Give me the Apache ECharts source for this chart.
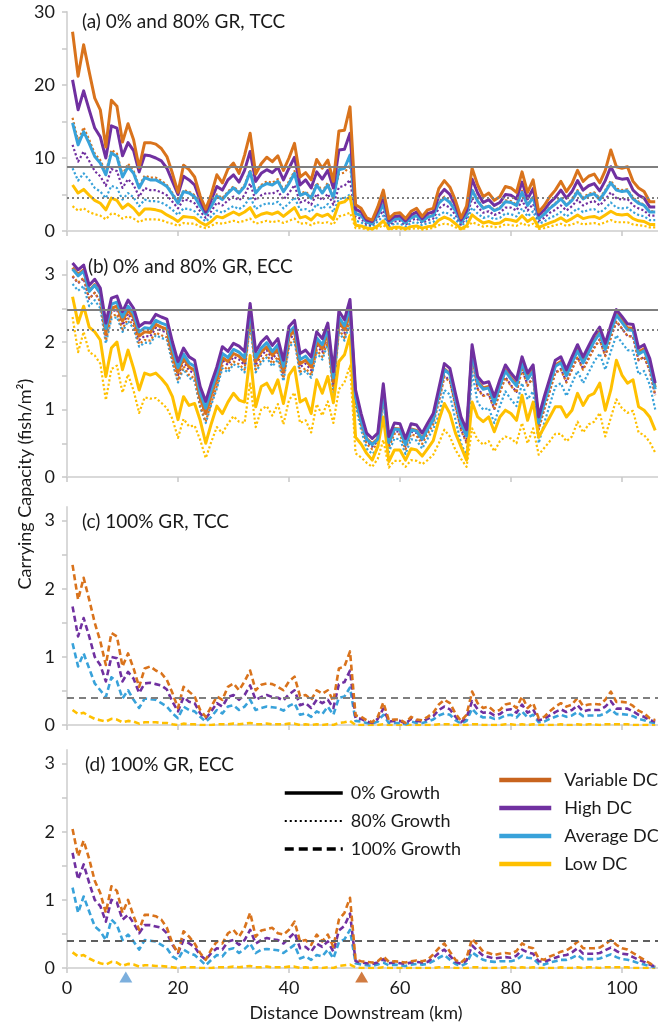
<!DOCTYPE html>
<html><head><meta charset="utf-8">
<script src="https://cdn.jsdelivr.net/npm/echarts@6/dist/echarts.min.js"></script>
<style>html,body{margin:0;padding:0;background:#fff}#c{width:658px;height:1025px}</style>
</head><body><div id="c"></div>
<script>
const km = [1,2,3,4,5,6,7,8,9,10,11,12,13,14,15,16,17,18,19,20,21,22,23,24,25,26,27,28,29,30,31,32,33,34,35,36,37,38,39,40,41,42,43,44,45,46,47,48,49,50,51,52,53,54,55,56,57,58,59,60,61,62,63,64,65,66,67,68,69,70,71,72,73,74,75,76,77,78,79,80,81,82,83,84,85,86,87,88,89,90,91,92,93,94,95,96,97,98,99,100,101,102,103,104,105,106];
const xTicks = [0,20,40,60,80,100];

// (a) 0% and 80% GR, TCC
const aVarSolid = [27.3,21.2,25.5,21.8,18.2,16.6,11.5,17.9,17.1,12.2,14.7,12.5,8.7,12.1,12.1,11.9,11.3,10.2,7.9,5.3,9.0,8.4,7.4,4.8,3.0,5.0,7.7,6.6,8.5,9.3,7.9,10.4,13.4,7.8,9.2,10.1,9.5,10.3,8.3,10.0,12.0,7.4,8.0,7.0,9.8,8.6,9.7,6.8,13.7,13.8,17.0,3.6,3.1,1.8,1.5,3.3,5.6,1.7,2.4,2.5,1.7,2.7,3.1,2.0,2.9,3.1,5.8,6.9,6.0,4.2,1.8,3.4,8.6,6.3,4.7,5.2,4.2,4.7,6.1,5.9,5.3,8.1,5.3,7.0,2.6,3.5,4.7,5.6,6.8,5.4,6.5,8.3,6.8,7.5,7.8,6.6,8.3,11.1,8.8,8.6,8.8,6.8,5.9,5.4,4.0,4.0];
const aHighSolid = [20.7,16.6,19.2,16.6,14.1,12.9,10.0,14.4,14.1,10.3,12.1,11.0,8.1,10.4,10.3,10.0,9.6,8.6,6.8,5.0,7.5,7.0,6.3,4.2,2.6,4.3,6.1,5.6,7.0,7.7,6.7,8.3,10.9,6.8,7.9,8.4,8.0,8.7,7.0,8.6,10.1,6.3,7.0,5.9,8.1,7.1,8.3,5.9,11.1,11.2,13.4,3.0,2.6,1.5,1.3,2.8,4.6,1.4,2.0,2.1,1.4,2.2,2.6,1.7,2.4,2.6,4.8,5.7,5.0,3.5,1.5,2.8,7.1,5.2,3.9,4.3,3.5,3.9,5.0,4.9,4.4,6.7,4.4,5.8,2.2,2.9,3.9,4.6,5.6,4.5,5.4,6.9,5.6,6.2,6.5,5.5,6.9,8.8,7.3,7.1,7.2,5.6,4.9,4.5,3.3,3.3];
const aAvgSolid = [14.8,11.8,13.6,12.0,10.2,9.3,7.7,10.7,10.2,7.4,8.8,7.9,5.9,7.3,7.0,7.0,6.6,6.1,5.0,3.8,5.4,5.2,4.7,3.4,2.3,3.4,4.8,4.3,5.2,5.9,5.2,6.1,8.1,5.2,6.1,6.5,6.3,6.8,5.4,6.5,7.9,4.9,5.2,4.5,6.3,5.2,6.3,4.5,8.4,8.6,10.4,2.4,2.1,1.2,1.0,2.2,3.6,1.1,1.6,1.7,1.1,1.8,2.1,1.3,1.9,2.1,3.8,4.5,3.9,2.8,1.2,2.2,5.6,4.1,3.1,3.4,2.8,3.1,4.0,3.9,3.5,5.3,3.5,4.6,1.7,2.3,3.1,3.7,4.4,3.5,4.2,5.4,4.4,4.9,5.1,4.3,5.4,6.6,5.6,5.4,5.5,4.4,3.8,3.5,2.6,2.6];
const aLowSolid = [6.3,5.2,5.7,4.9,4.2,3.8,2.9,4.5,4.2,3.1,3.7,3.1,2.2,3.0,3.0,2.9,2.7,2.2,1.8,1.3,2.0,1.9,1.8,1.2,0.8,1.3,2.0,1.8,2.2,2.6,2.2,2.6,3.2,1.9,2.3,2.5,2.3,2.6,2.0,2.6,3.2,1.8,2.0,1.5,2.3,2.0,2.3,1.6,3.8,4.0,4.7,0.8,0.7,0.4,0.3,0.7,1.4,0.3,0.5,0.5,0.3,0.6,0.7,0.4,0.6,0.7,1.5,1.9,1.6,1.0,0.3,0.7,2.2,1.6,1.1,1.3,1.0,1.1,1.6,1.5,1.3,2.1,1.3,1.8,0.5,0.8,1.1,1.4,1.8,1.3,1.7,2.2,1.7,1.9,2.0,1.7,2.2,2.7,2.3,2.2,2.3,1.7,1.4,1.3,0.9,0.9];
const aVarDot = [15.5,12.3,14.2,12.5,10.6,9.7,8.0,11.1,10.6,7.7,9.2,8.2,6.1,7.6,7.3,7.3,6.9,6.3,5.2,4.0,5.6,5.4,4.9,3.5,2.4,3.5,5.0,4.5,5.4,6.1,5.4,6.3,8.4,5.4,6.3,6.8,6.6,7.1,5.6,6.8,8.2,5.1,5.4,4.7,6.6,5.4,6.6,4.7,7.8,8.0,9.0,2.5,2.2,1.2,1.0,2.3,3.7,1.1,1.7,1.8,1.1,1.9,2.2,1.4,2.0,2.2,4.0,4.7,4.1,2.9,1.2,2.3,5.8,4.3,3.2,3.5,2.9,3.2,4.2,4.1,3.6,5.5,3.6,4.8,1.8,2.4,3.2,3.8,4.6,3.6,4.4,5.6,4.6,5.1,5.3,4.5,5.6,6.9,5.8,5.6,5.7,4.6,4.0,3.6,2.7,2.7];
const aHighDot = [11.8,9.5,10.9,9.6,8.2,7.5,6.2,8.5,8.2,5.9,7.1,6.3,4.7,5.9,5.6,5.6,5.3,4.9,4.0,3.1,4.3,4.2,3.8,2.7,1.8,2.7,3.9,3.5,4.2,4.7,4.2,4.9,6.5,4.2,4.9,5.2,5.1,5.5,4.3,5.2,6.3,3.9,4.2,3.6,5.1,4.2,5.1,3.6,6.0,6.2,7.0,1.9,1.7,0.9,0.8,1.8,2.8,0.8,1.3,1.4,0.8,1.5,1.7,1.1,1.5,1.7,3.1,3.6,3.2,2.2,0.9,1.8,4.5,3.3,2.5,2.7,2.2,2.5,3.2,3.2,2.8,4.2,2.8,3.7,1.4,1.8,2.5,2.9,3.5,2.8,3.4,4.3,3.5,3.9,4.1,3.5,4.3,5.3,4.5,4.3,4.4,3.5,3.1,2.8,2.1,2.1];
const aAvgDot = [8.6,6.9,7.9,7.0,5.9,5.4,4.5,6.2,5.9,4.3,5.2,4.6,3.4,4.3,4.1,4.1,3.9,3.5,2.9,2.2,3.1,3.0,2.7,2.0,1.3,2.0,2.8,2.5,3.0,3.4,3.0,3.5,4.7,3.0,3.5,3.8,3.7,4.0,3.1,3.8,4.6,2.9,3.0,2.6,3.7,3.0,3.7,2.6,4.4,4.5,5.0,1.4,1.2,0.7,0.6,1.3,2.1,0.6,1.0,1.0,0.6,1.1,1.2,0.8,1.1,1.2,2.2,2.6,2.3,1.6,0.7,1.3,3.2,2.4,1.8,2.0,1.6,1.8,2.4,2.3,2.0,3.1,2.0,2.7,1.0,1.3,1.8,2.1,2.6,2.0,2.5,3.1,2.6,2.9,3.0,2.5,3.1,3.9,3.2,3.1,3.2,2.6,2.2,2.0,1.5,1.5];
const aLowDot = [3.4,2.8,3.1,2.6,2.3,2.1,1.6,2.4,2.3,1.7,2.0,1.7,1.2,1.6,1.6,1.6,1.5,1.2,1.0,0.7,1.1,1.0,1.0,0.6,0.4,0.7,1.1,1.0,1.2,1.4,1.2,1.4,1.7,1.0,1.2,1.4,1.2,1.4,1.1,1.4,1.7,1.0,1.1,0.8,1.2,1.1,1.2,0.9,2.0,2.2,2.5,0.4,0.4,0.2,0.2,0.4,0.8,0.2,0.3,0.3,0.2,0.3,0.4,0.2,0.3,0.4,0.8,1.0,0.9,0.5,0.2,0.4,1.2,0.9,0.6,0.7,0.5,0.6,0.9,0.8,0.7,1.1,0.7,1.0,0.3,0.4,0.6,0.8,1.0,0.7,0.9,1.2,0.9,1.0,1.1,0.9,1.2,1.5,1.2,1.2,1.2,0.9,0.8,0.7,0.5,0.5];
const aRefs = [8.8, 4.6];

// (b) 0% and 80% GR, ECC
const bVarSolid = [3.10,3.00,3.07,2.76,2.85,2.72,2.14,2.50,2.53,2.31,2.47,2.36,2.09,2.15,2.14,2.26,2.22,2.19,1.85,1.55,1.76,1.63,1.58,1.18,0.94,1.22,1.47,1.77,1.71,1.83,1.79,1.71,2.42,1.71,1.85,1.93,1.80,1.90,1.58,2.08,2.17,1.68,1.73,1.63,2.00,1.90,2.13,1.41,2.31,2.18,2.46,1.20,0.85,0.57,0.49,0.57,1.28,0.52,0.72,0.71,0.49,0.71,0.69,0.57,0.72,0.86,1.23,1.60,1.53,1.16,0.81,0.62,1.88,1.42,1.32,1.34,1.12,1.37,1.59,1.47,1.37,1.71,1.47,1.59,0.82,1.12,1.39,1.66,1.71,1.52,1.71,1.89,1.71,1.87,2.03,2.15,1.91,2.18,2.43,2.32,2.21,2.20,1.85,1.90,1.70,1.33];
const bHighSolid = [3.17,3.07,3.14,2.84,2.93,2.80,2.28,2.65,2.68,2.45,2.62,2.50,2.23,2.29,2.28,2.41,2.37,2.34,2.00,1.71,1.91,1.78,1.73,1.34,1.12,1.39,1.63,1.93,1.86,1.98,1.94,1.86,2.57,1.86,2.00,2.08,1.95,2.05,1.73,2.23,2.32,1.83,1.88,1.78,2.15,2.05,2.28,1.56,2.46,2.33,2.63,1.29,0.94,0.65,0.57,0.65,1.38,0.60,0.80,0.79,0.57,0.79,0.77,0.65,0.80,0.94,1.31,1.68,1.61,1.24,0.89,0.70,1.96,1.49,1.39,1.41,1.19,1.44,1.66,1.54,1.44,1.78,1.54,1.66,0.89,1.19,1.46,1.73,1.78,1.59,1.78,1.96,1.78,1.94,2.10,2.22,1.98,2.25,2.48,2.38,2.27,2.26,1.91,1.96,1.76,1.39];
const bAvgSolid = [3.08,2.98,3.05,2.75,2.84,2.72,2.20,2.56,2.59,2.37,2.53,2.42,2.15,2.21,2.20,2.32,2.28,2.25,1.91,1.62,1.82,1.69,1.64,1.25,1.02,1.29,1.53,1.83,1.77,1.89,1.85,1.77,2.48,1.77,1.91,1.99,1.86,1.96,1.64,2.14,2.23,1.74,1.79,1.69,2.06,1.96,2.19,1.47,2.37,2.24,2.52,1.19,0.84,0.56,0.48,0.56,1.27,0.51,0.71,0.70,0.48,0.70,0.68,0.56,0.71,0.85,1.22,1.59,1.52,1.15,0.80,0.61,1.86,1.40,1.30,1.32,1.10,1.35,1.57,1.45,1.35,1.69,1.45,1.57,0.80,1.10,1.37,1.64,1.69,1.50,1.69,1.87,1.69,1.85,2.01,2.13,1.89,2.16,2.40,2.29,2.18,2.17,1.82,1.87,1.67,1.30];
const bLowSolid = [2.67,2.28,2.53,2.22,2.15,2.03,1.49,1.91,2.00,1.59,1.88,1.61,1.29,1.54,1.51,1.54,1.46,1.36,1.19,0.85,1.19,1.06,1.09,0.84,0.50,0.79,1.05,0.94,1.11,1.24,1.14,1.11,1.80,1.04,1.34,1.39,1.24,1.44,1.09,1.51,1.63,1.11,1.16,0.94,1.44,1.24,1.49,1.10,1.71,1.81,2.10,0.59,0.49,0.35,0.25,0.45,0.89,0.23,0.40,0.40,0.25,0.42,0.40,0.31,0.42,0.54,0.84,1.09,0.94,0.65,0.45,0.25,1.11,0.89,0.82,0.89,0.67,0.89,0.99,0.94,0.84,1.21,0.84,1.11,0.59,0.74,0.89,1.04,1.04,0.89,0.99,1.24,1.06,1.20,1.24,1.39,0.99,1.29,1.73,1.51,1.39,1.44,1.04,0.99,0.89,0.69];
const bVarDot = [2.98,2.88,2.95,2.64,2.73,2.60,2.02,2.38,2.41,2.19,2.35,2.24,1.97,2.03,2.02,2.14,2.10,2.07,1.73,1.43,1.64,1.51,1.46,1.06,0.82,1.10,1.35,1.65,1.59,1.71,1.67,1.59,2.30,1.59,1.73,1.81,1.68,1.78,1.46,1.96,2.05,1.56,1.61,1.51,1.88,1.78,2.01,1.29,2.19,2.06,2.34,1.12,0.77,0.49,0.41,0.49,1.20,0.44,0.64,0.63,0.41,0.63,0.61,0.49,0.64,0.78,1.11,1.48,1.41,1.04,0.69,0.50,1.76,1.30,1.20,1.22,1.00,1.25,1.47,1.35,1.25,1.59,1.35,1.47,0.70,1.00,1.27,1.54,1.59,1.40,1.59,1.77,1.59,1.75,1.91,2.03,1.79,2.06,2.31,2.20,2.09,2.08,1.73,1.78,1.58,1.21];
const bHighDot = [2.97,2.87,2.94,2.64,2.73,2.60,2.08,2.45,2.48,2.25,2.42,2.30,2.03,2.09,2.08,2.21,2.17,2.14,1.80,1.51,1.71,1.58,1.53,1.14,0.92,1.19,1.43,1.73,1.66,1.78,1.74,1.66,2.37,1.66,1.80,1.88,1.75,1.85,1.53,2.03,2.12,1.63,1.68,1.58,1.95,1.85,2.08,1.36,2.26,2.13,2.43,1.17,0.82,0.53,0.45,0.53,1.26,0.48,0.68,0.67,0.45,0.67,0.65,0.53,0.68,0.82,1.13,1.50,1.43,1.06,0.71,0.52,1.78,1.31,1.21,1.23,1.01,1.26,1.48,1.36,1.26,1.60,1.36,1.48,0.71,1.01,1.28,1.55,1.60,1.41,1.60,1.78,1.60,1.76,1.92,2.04,1.80,2.07,2.30,2.20,2.09,2.08,1.73,1.78,1.58,1.21];
const bAvgDot = [2.86,2.76,2.83,2.53,2.62,2.50,1.98,2.34,2.37,2.15,2.31,2.20,1.93,1.99,1.98,2.10,2.06,2.03,1.69,1.40,1.60,1.47,1.42,1.03,0.80,1.07,1.31,1.61,1.55,1.67,1.63,1.55,2.26,1.55,1.69,1.77,1.64,1.74,1.42,1.92,2.01,1.52,1.57,1.47,1.84,1.74,1.97,1.25,2.15,2.02,2.30,1.05,0.70,0.42,0.34,0.42,1.13,0.37,0.57,0.56,0.34,0.56,0.54,0.42,0.57,0.71,0.92,1.29,1.22,0.85,0.50,0.31,1.56,1.10,1.00,1.02,0.80,1.05,1.27,1.15,1.05,1.39,1.15,1.27,0.50,0.80,1.07,1.34,1.39,1.20,1.39,1.57,1.39,1.55,1.71,1.83,1.59,1.86,2.10,1.99,1.88,1.87,1.52,1.57,1.37,1.00];
const bLowDot = [2.37,1.85,2.15,1.85,1.80,1.68,1.14,1.60,1.65,1.25,1.52,1.28,0.95,1.18,1.16,1.17,1.10,1.02,0.86,0.58,0.86,0.75,0.76,0.55,0.28,0.52,0.74,0.65,0.79,0.90,0.82,0.80,1.40,0.74,1.00,1.05,0.91,1.08,0.78,1.14,1.25,0.80,0.84,0.66,1.08,0.91,1.12,0.80,1.30,1.40,1.65,0.35,0.29,0.21,0.15,0.27,0.55,0.14,0.24,0.24,0.15,0.25,0.24,0.19,0.25,0.33,0.50,0.70,0.60,0.40,0.27,0.15,0.72,0.55,0.48,0.53,0.38,0.53,0.60,0.57,0.50,0.80,0.50,0.72,0.33,0.43,0.53,0.64,0.64,0.53,0.60,0.82,0.66,0.78,0.82,0.95,0.60,0.88,1.15,1.02,0.95,0.98,0.66,0.62,0.52,0.36];
const bRefs = [2.48, 2.18];

// (c) 100% GR, TCC
const cVarDash = [2.35,1.84,2.16,1.84,1.50,1.23,0.88,1.35,1.30,0.86,1.05,0.83,0.56,0.83,0.86,0.80,0.76,0.66,0.47,0.25,0.56,0.49,0.42,0.22,0.12,0.27,0.42,0.37,0.56,0.61,0.51,0.64,0.80,0.51,0.59,0.61,0.60,0.56,0.51,0.64,0.71,0.42,0.44,0.37,0.51,0.46,0.51,0.35,0.83,0.86,1.08,0.14,0.12,0.07,0.04,0.12,0.33,0.07,0.08,0.08,0.03,0.12,0.08,0.07,0.12,0.18,0.30,0.37,0.32,0.17,0.06,0.15,0.49,0.32,0.25,0.27,0.20,0.22,0.30,0.32,0.25,0.42,0.25,0.32,0.10,0.12,0.20,0.27,0.32,0.27,0.30,0.40,0.28,0.30,0.31,0.30,0.37,0.49,0.34,0.34,0.33,0.28,0.21,0.17,0.10,0.07];
const cHighDash = [1.74,1.30,1.57,1.30,1.00,0.88,0.64,1.00,0.98,0.64,0.78,0.68,0.47,0.61,0.62,0.60,0.58,0.52,0.34,0.20,0.41,0.34,0.32,0.17,0.10,0.20,0.32,0.27,0.41,0.44,0.37,0.44,0.58,0.37,0.41,0.44,0.41,0.40,0.36,0.45,0.51,0.29,0.32,0.25,0.37,0.32,0.37,0.25,0.60,0.63,0.80,0.10,0.09,0.05,0.03,0.09,0.24,0.05,0.06,0.06,0.02,0.09,0.06,0.05,0.09,0.13,0.22,0.27,0.23,0.12,0.04,0.11,0.35,0.23,0.18,0.19,0.14,0.16,0.22,0.23,0.18,0.30,0.18,0.23,0.07,0.09,0.14,0.19,0.23,0.19,0.22,0.29,0.20,0.22,0.22,0.22,0.27,0.35,0.24,0.24,0.24,0.20,0.15,0.12,0.07,0.05];
const cAvgDash = [1.20,0.86,1.05,0.83,0.61,0.51,0.41,0.70,0.64,0.39,0.51,0.37,0.25,0.39,0.38,0.37,0.32,0.27,0.17,0.10,0.27,0.22,0.20,0.12,0.05,0.12,0.22,0.17,0.27,0.29,0.22,0.27,0.37,0.22,0.25,0.27,0.26,0.25,0.21,0.28,0.32,0.15,0.17,0.12,0.20,0.16,0.27,0.15,0.40,0.42,0.55,0.06,0.05,0.03,0.02,0.05,0.15,0.03,0.03,0.03,0.01,0.05,0.03,0.03,0.05,0.08,0.14,0.17,0.15,0.07,0.02,0.06,0.24,0.15,0.11,0.12,0.09,0.10,0.14,0.15,0.11,0.20,0.11,0.15,0.04,0.05,0.09,0.12,0.15,0.12,0.14,0.19,0.13,0.14,0.14,0.14,0.17,0.23,0.16,0.16,0.15,0.13,0.09,0.07,0.04,0.03];
const cLowDash = [0.22,0.16,0.18,0.13,0.09,0.07,0.05,0.09,0.08,0.04,0.06,0.05,0.02,0.04,0.04,0.04,0.03,0.03,0.01,0.00,0.02,0.01,0.01,0.00,0.00,0.00,0.01,0.01,0.01,0.02,0.01,0.02,0.03,0.01,0.01,0.02,0.01,0.01,0.01,0.02,0.02,0.00,0.01,0.00,0.01,0.00,0.01,0.00,0.03,0.04,0.06,0.00,0.00,0.00,0.00,0.00,0.01,0.00,0.00,0.00,0.00,0.00,0.00,0.00,0.00,0.00,0.01,0.01,0.01,0.00,0.00,0.00,0.01,0.01,0.00,0.00,0.00,0.00,0.01,0.01,0.00,0.01,0.00,0.01,0.00,0.00,0.00,0.00,0.01,0.00,0.00,0.01,0.00,0.01,0.01,0.00,0.01,0.01,0.01,0.01,0.01,0.00,0.00,0.00,0.00,0.00];
const cRef = 0.4;

// (d) 100% GR, ECC
const dVarDash = [2.04,1.64,1.87,1.60,1.28,1.10,0.81,1.20,1.13,0.81,1.00,0.76,0.56,0.78,0.78,0.76,0.71,0.59,0.36,0.22,0.54,0.46,0.36,0.22,0.12,0.27,0.39,0.36,0.51,0.56,0.46,0.59,0.81,0.46,0.55,0.57,0.59,0.51,0.49,0.56,0.68,0.39,0.41,0.34,0.49,0.39,0.49,0.31,0.71,0.81,1.03,0.12,0.10,0.09,0.08,0.10,0.17,0.09,0.10,0.09,0.08,0.10,0.11,0.10,0.12,0.20,0.29,0.36,0.24,0.12,0.08,0.15,0.43,0.34,0.24,0.22,0.19,0.21,0.22,0.21,0.25,0.36,0.31,0.29,0.14,0.12,0.17,0.20,0.24,0.26,0.31,0.39,0.29,0.29,0.29,0.30,0.35,0.41,0.34,0.29,0.27,0.22,0.17,0.12,0.07,0.02];
const dHighDash = [1.69,1.30,1.52,1.25,1.00,0.91,0.68,1.00,0.96,0.71,0.78,0.66,0.51,0.63,0.63,0.61,0.59,0.51,0.34,0.22,0.41,0.36,0.31,0.19,0.12,0.22,0.29,0.27,0.39,0.41,0.34,0.41,0.56,0.36,0.41,0.44,0.42,0.41,0.36,0.44,0.52,0.29,0.31,0.24,0.36,0.31,0.39,0.24,0.55,0.62,0.80,0.10,0.08,0.07,0.06,0.08,0.13,0.07,0.08,0.07,0.06,0.08,0.09,0.08,0.09,0.15,0.22,0.27,0.18,0.09,0.06,0.11,0.33,0.25,0.18,0.16,0.14,0.15,0.16,0.15,0.18,0.27,0.23,0.21,0.10,0.09,0.12,0.15,0.18,0.19,0.23,0.29,0.21,0.21,0.21,0.22,0.26,0.30,0.25,0.21,0.20,0.16,0.12,0.09,0.05,0.02];
const dAvgDash = [1.18,0.81,1.05,0.83,0.61,0.54,0.41,0.71,0.63,0.41,0.49,0.39,0.27,0.41,0.40,0.39,0.34,0.29,0.17,0.12,0.27,0.22,0.19,0.12,0.04,0.12,0.19,0.17,0.27,0.29,0.22,0.28,0.36,0.22,0.27,0.28,0.27,0.26,0.22,0.28,0.34,0.14,0.17,0.12,0.19,0.17,0.27,0.14,0.38,0.42,0.56,0.07,0.05,0.04,0.03,0.05,0.08,0.04,0.05,0.04,0.03,0.05,0.06,0.05,0.06,0.10,0.15,0.19,0.12,0.06,0.03,0.07,0.23,0.17,0.12,0.10,0.09,0.10,0.10,0.10,0.12,0.18,0.15,0.14,0.06,0.05,0.08,0.10,0.12,0.12,0.15,0.19,0.13,0.13,0.13,0.14,0.17,0.20,0.16,0.13,0.12,0.10,0.07,0.05,0.03,0.01];
const dLowDash = [0.23,0.17,0.19,0.14,0.10,0.07,0.05,0.09,0.08,0.03,0.06,0.05,0.02,0.04,0.04,0.03,0.03,0.02,0.01,0.00,0.01,0.01,0.01,0.00,0.00,0.00,0.01,0.01,0.01,0.02,0.01,0.02,0.03,0.01,0.01,0.02,0.01,0.01,0.01,0.02,0.02,0.00,0.01,0.00,0.01,0.00,0.01,0.00,0.03,0.04,0.05,0.01,0.00,0.00,0.00,0.00,0.01,0.00,0.00,0.00,0.00,0.00,0.00,0.00,0.00,0.00,0.01,0.01,0.01,0.00,0.00,0.00,0.01,0.01,0.00,0.00,0.00,0.00,0.01,0.01,0.00,0.01,0.00,0.01,0.00,0.00,0.00,0.00,0.01,0.00,0.00,0.01,0.00,0.01,0.01,0.00,0.01,0.01,0.01,0.01,0.01,0.00,0.00,0.00,0.00,0.00];
const dRef = 0.4;

const markerKm = [10.6, 53.1];
const panelTitles = ['(a) 0% and 80% GR, TCC', '(b) 0% and 80% GR, ECC', '(c) 100% GR, TCC', '(d) 100% GR, ECC'];
const growthNames = ['0% Growth', '80% Growth', '100% Growth'];
const dcNames = ['Variable DC', 'High DC', 'Average DC', 'Low DC'];

const C = { var: '#D9731C', high: '#7030A0', avg: '#38A2DA', low: '#FFC000', ref: '#7F7F7F', refDark: '#5F5F5F' };
const FONT = 'Lato';
const STY = {
  solid: { width: 3, type: 'solid' },
  dot: { width: 2.2, type: [2.2, 2.2] },
  dash: { width: 2.6, type: [6, 3.5] }
};

function ln(name, gi, vals, color, kind, extra) {
  return Object.assign({
    type: 'line', name, xAxisIndex: gi, yAxisIndex: gi,
    data: km.map((x, i) => [x, vals[i]]),
    symbol: 'none', silent: true, animation: false,
    lineStyle: { color, width: STY[kind].width, type: STY[kind].type, cap: 'butt', join: 'round' }
  }, extra || {});
}
function refLine(values, types, color) {
  return {
    silent: true, symbol: ['none', 'none'], label: { show: false }, animation: false,
    data: values.map((v, i) => ({ yAxis: v, lineStyle: { color: color || C.ref, width: 2, type: types[i] } }))
  };
}
function legendSeries(name, color, width, type) {
  return { type: 'line', name, xAxisIndex: 3, yAxisIndex: 3, data: [], symbol: 'none', symbolSize: 0,
    lineStyle: { color, width, type }, itemStyle: { color, opacity: 0 } };
}

const grids = [
  { left: 67, top: 12, width: 591, height: 219 },
  { left: 67, top: 261, width: 591, height: 216 },
  { left: 67, top: 507, width: 591, height: 218 },
  { left: 67, top: 750, width: 591, height: 218 }
];
const xAxes = grids.map((g, i) => ({
  gridIndex: i, type: 'value', min: 0, max: 106.5,
  axisLine: { show: true, onZero: false, lineStyle: { color: '#D9D9D9', width: 2 } },
  axisTick: { show: true, customValues: xTicks, length: 5, lineStyle: { color: '#C8C8C8', width: 1.5 } },
  axisLabel: { show: i === 3, customValues: xTicks, fontSize: 18, fontFamily: FONT, color: '#1a1a1a', margin: 11 },
  splitLine: { show: false }
}));
const yAxes = grids.map((g, i) => ({
  gridIndex: i, type: 'value', min: 0, max: i === 0 ? 30 : 3.2,
  axisLine: { show: true, lineStyle: { color: '#D9D9D9', width: 2 } },
  axisTick: { show: true, length: 5, customValues: i === 0 ? [0,5,10,15,20,25,30] : [0,0.5,1,1.5,2,2.5,3], lineStyle: { color: '#C8C8C8', width: 1.5 } },
  axisLabel: { show: true, customValues: i === 0 ? [0,10,20,30] : [0,1,2,3], fontSize: 18, fontFamily: FONT, color: '#1a1a1a', margin: 12 },
  splitLine: { show: false }
}));

const series = [
  // (a)
  ln('aLowDot', 0, aLowDot, C.low, 'dot'),
  ln('aAvgDot', 0, aAvgDot, C.avg, 'dot'),
  ln('aHighDot', 0, aHighDot, C.high, 'dot'),
  ln('aVarDot', 0, aVarDot, C.var, 'dot', { markLine: refLine(aRefs, ['solid', [2, 3]]) }),
  ln('aLowSolid', 0, aLowSolid, C.low, 'solid'),
  ln('aAvgSolid', 0, aAvgSolid, C.avg, 'solid'),
  ln('aHighSolid', 0, aHighSolid, C.high, 'solid'),
  ln('aVarSolid', 0, aVarSolid, C.var, 'solid'),
  // (b)
  ln('bLowDot', 1, bLowDot, C.low, 'dot'),
  ln('bAvgDot', 1, bAvgDot, C.avg, 'dot'),
  ln('bHighDot', 1, bHighDot, C.high, 'dot'),
  ln('bVarDot', 1, bVarDot, C.var, 'dot', { markLine: refLine(bRefs, ['solid', [2, 3]]) }),
  ln('bLowSolid', 1, bLowSolid, C.low, 'solid'),
  ln('bVarSolid', 1, bVarSolid, C.var, 'solid'),
  ln('bAvgSolid', 1, bAvgSolid, C.avg, 'solid'),
  ln('bHighSolid', 1, bHighSolid, C.high, 'solid'),
  // (c)
  ln('cLowDash', 2, cLowDash, C.low, 'dash', { markLine: refLine([cRef], [[7, 5]]) }),
  ln('cAvgDash', 2, cAvgDash, C.avg, 'dash'),
  ln('cHighDash', 2, cHighDash, C.high, 'dash'),
  ln('cVarDash', 2, cVarDash, C.var, 'dash'),
  // (d)
  ln('dLowDash', 3, dLowDash, C.low, 'dash', { markLine: refLine([dRef], [[7, 5]], C.refDark) }),
  ln('dAvgDash', 3, dAvgDash, C.avg, 'dash'),
  ln('dHighDash', 3, dHighDash, C.high, 'dash'),
  ln('dVarDash', 3, dVarDash, C.var, 'dash'),
  // markers below axis (d)
  {
    type: 'scatter', xAxisIndex: 3, yAxisIndex: 3, silent: true, clip: false, animation: false,
    symbol: 'triangle', symbolSize: [13, 11], symbolOffset: [0, 9], z: 10,
    data: markerKm.map((x, i) => ({ value: [x, 0], itemStyle: { color: i === 0 ? '#5B9BD5' : '#C55A11' } }))
  },
  // legend-only series
  legendSeries(growthNames[0], '#000', 3.5, 'solid'),
  legendSeries(growthNames[1], '#000', 2.2, [2, 3]),
  legendSeries(growthNames[2], '#000', 3.5, [9, 5]),
  legendSeries(dcNames[0], '#C8641E', 4.5, 'solid'),
  legendSeries(dcNames[1], C.high, 4.5, 'solid'),
  legendSeries(dcNames[2], C.avg, 4.5, 'solid'),
  legendSeries(dcNames[3], C.low, 4.5, 'solid')
];

const legendText = { fontSize: 18, fontFamily: FONT, color: '#1a1a1a', lineHeight: 18 };
const titlePos = [[82, 22], [88, 267], [82, 522], [85, 765]];
const legendCommon = { orient: 'vertical', itemHeight: 14, itemGap: 10, padding: 0, selectedMode: false,
  itemStyle: { opacity: 0, borderWidth: 0 }, lineStyle: { width: 'inherit', type: 'inherit' } };

const chart = echarts.init(document.getElementById('c'), null, { renderer: 'canvas' });
chart.setOption({
  animation: false,
  backgroundColor: '#fff',
  grid: grids,
  xAxis: xAxes,
  yAxis: yAxes,
  legend: [
    Object.assign({ data: growthNames, left: 283, top: 784, itemWidth: 58, textStyle: Object.assign({ padding: [0, 0, 0, 3] }, legendText) }, legendCommon),
    Object.assign({ data: dcNames, left: 497, top: 771, itemWidth: 52, textStyle: Object.assign({ padding: [0, 0, 0, 8] }, legendText) }, legendCommon)
  ],
  graphic: panelTitles.map((t, i) => ({
    type: 'text', x: titlePos[i][0], y: titlePos[i][1], z: 100,
    style: { text: t, font: '19px ' + FONT, fill: '#1a1a1a', verticalAlign: 'middle' }
  })).concat([
    { type: 'text', x: 25, y: 484, rotation: Math.PI / 2, style: { text: 'Carrying Capacity (fish/m²)', font: '18px ' + FONT, fill: '#1a1a1a', align: 'center', verticalAlign: 'middle' } },
    { type: 'text', x: 356, y: 1013, style: { text: 'Distance Downstream (km)', font: '18px ' + FONT, fill: '#1a1a1a', align: 'center', verticalAlign: 'middle' } }
  ]),
  series
});
</script></body></html>
